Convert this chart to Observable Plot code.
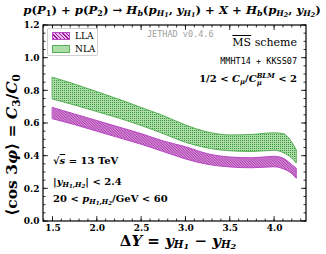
<!DOCTYPE html>
<html><head><meta charset="utf-8">
<script src="https://cdn.jsdelivr.net/npm/d3@7"></script>
<script src="https://cdn.jsdelivr.net/npm/@observablehq/plot@0.6"></script>
<style>
body{margin:0;background:#fff;}
#wrap{position:relative;width:326px;height:254px;font-family:"DejaVu Serif",serif;color:#000;overflow:hidden;}
#wrap svg{position:absolute;left:0;top:0;}
.t{position:absolute;white-space:nowrap;line-height:1;}
.b{font-weight:bold;}
i{font-style:italic;}
sub{font-size:68%;vertical-align:-0.3em;line-height:0;}
sup{font-size:68%;vertical-align:0.5em;line-height:0;}
sub sub{font-size:80%;vertical-align:-0.2em;}
.xl sub{vertical-align:-0.2em;}
.xl sub sub{vertical-align:-0.1em;}
.mono{font-family:"DejaVu Sans Mono",monospace;}
.ss{display:inline-block;vertical-align:-0.45em;line-height:1;font-size:68%;text-align:left;}
#legend{position:absolute;left:47px;top:28px;width:49px;height:26px;border:1px solid #d0d0d0;border-radius:2px;background:#fff;}
.patch{position:absolute;left:4px;width:16px;height:6px;}
.lla{background:repeating-linear-gradient(45deg,#9a1c9a 0 1px,#eab6ee 1px 2.6px);border:1px solid #b848c4;}
.nla{background:radial-gradient(circle,#3c963c 35%,transparent 45%) 0 0/2px 2px,#acdca8;border:1px solid #55b055;}
.lt{position:absolute;left:27px;font-size:9px;}
</style></head><body><div id="wrap"></div>
<script>
// ---- data ----
const deltaY  = [1.5, 1.75, 2.0, 2.25, 2.5, 2.75, 3.0, 3.25, 3.5, 3.75, 4.0, 4.1, 4.2, 4.25];
const nlaHigh = [0.880, 0.838, 0.792, 0.745, 0.695, 0.645, 0.588, 0.545, 0.527, 0.530, 0.540, 0.535, 0.482, 0.435];
const nlaLow  = [0.747, 0.710, 0.670, 0.630, 0.585, 0.535, 0.482, 0.447, 0.430, 0.426, 0.433, 0.420, 0.385, 0.355];
const llaHigh = [0.695, 0.655, 0.615, 0.575, 0.535, 0.490, 0.455, 0.412, 0.392, 0.387, 0.396, 0.385, 0.345, 0.323];
const llaLow  = [0.626, 0.590, 0.550, 0.510, 0.470, 0.425, 0.380, 0.347, 0.331, 0.326, 0.332, 0.320, 0.290, 0.262];
const xTicks = [1.5, 2.0, 2.5, 3.0, 3.5, 4.0];
const yTicks = [0.0, 0.2, 0.4, 0.6, 0.8, 1.0, 1.2];
const xDomain = [1.393, 4.36];
const yDomain = [0, 1.2];

const nla = deltaY.map((d, i) => ({dy: d, lo: nlaLow[i], hi: nlaHigh[i]}));
const lla = deltaY.map((d, i) => ({dy: d, lo: llaLow[i], hi: llaHigh[i]}));

const xMinor = d3.range(14, 44).map(v => v / 10);
const yMinor = d3.range(0, 25).map(v => v * 0.05);

function frameMark(index, scales, values, dim) {
  const {width, height, marginLeft, marginRight, marginTop, marginBottom} = dim;
  const L = marginLeft, R = width - marginRight, T = marginTop, B = height - marginBottom;
  const g = d3.create("svg:g");
  const defs = g.append("defs");
  const p1 = defs.append("pattern").attr("id", "hLLA").attr("patternUnits", "userSpaceOnUse")
    .attr("width", 2.6).attr("height", 2.6);
  p1.append("rect").attr("width", 2.6).attr("height", 2.6).attr("fill", "#eab6ee");
  p1.append("path").attr("d", "M-0.65,-0.65L3.25,3.25M-0.65,1.95L0.65,3.25M1.95,-0.65L3.25,0.65")
    .attr("stroke", "#9a1c9a").attr("stroke-width", 0.9);
  const p2 = defs.append("pattern").attr("id", "hNLA").attr("patternUnits", "userSpaceOnUse")
    .attr("width", 2).attr("height", 2);
  p2.append("rect").attr("width", 2).attr("height", 2).attr("fill", "#acdca8");
  p2.append("rect").attr("width", 1).attr("height", 1).attr("fill", "#3c963c");
  const x = scales.x, y = scales.y;
  const tk = g.append("g").attr("stroke", "black").attr("stroke-width", 0.8);
  const addX = (vals, len) => vals.forEach(v => {
    const px = x(v); if (px < L || px > R) return;
    tk.append("line").attr("x1", px).attr("x2", px).attr("y1", B).attr("y2", B - len);
    tk.append("line").attr("x1", px).attr("x2", px).attr("y1", T).attr("y2", T + len);
  });
  const addY = (vals, len) => vals.forEach(v => {
    const py = y(v); if (py < T - 0.1 || py > B + 0.1) return;
    tk.append("line").attr("y1", py).attr("y2", py).attr("x1", L).attr("x2", L + len);
    tk.append("line").attr("y1", py).attr("y2", py).attr("x1", R).attr("x2", R - len);
  });
  addX(xMinor, 2.5); addX(xTicks, 5);
  addY(yMinor, 2.5); addY(yTicks, 5);
  g.append("rect").attr("x", L).attr("y", T).attr("width", R - L).attr("height", B - T)
    .attr("fill", "none").attr("stroke", "black").attr("stroke-width", 1.2);
  // rotated y-axis label
  const yl = g.append("text").attr("transform", `translate(${L - 31},${y(0.6) + 22}) rotate(-90)`)
    .attr("text-anchor", "middle").attr("dy", "0.35em")
    .attr("font-family", "DejaVu Serif").attr("font-size", 15.5).attr("font-weight", "bold").attr("fill", "black");
  yl.append("tspan").text("⟨cos 3");
  yl.append("tspan").attr("font-style", "italic").text("φ");
  yl.append("tspan").text("⟩ = ");
  yl.append("tspan").attr("font-style", "italic").text("C");
  yl.append("tspan").attr("font-size", 10.5).attr("baseline-shift", "-3").text("3");
  yl.append("tspan").text("/");
  yl.append("tspan").attr("font-style", "italic").text("C");
  yl.append("tspan").attr("font-size", 10.5).attr("baseline-shift", "-3").text("0");
  return g.node();
}

const chart = Plot.plot({
  width: 326, height: 254,
  marginTop: 25, marginBottom: 33, marginLeft: 43, marginRight: 20,
  style: {fontFamily: "DejaVu Serif", fontSize: "9px", fontWeight: "bold", background: "transparent"},
  x: {domain: xDomain, label: null},
  y: {domain: yDomain, label: null},
  marks: [
    Plot.areaY(nla, {x: "dy", y1: "lo", y2: "hi", fill: "url(#hNLA)", stroke: "#55b055", strokeWidth: 1, curve: "monotone-x"}),
    Plot.areaY(lla, {x: "dy", y1: "lo", y2: "hi", fill: "url(#hLLA)", stroke: "#b848c4", strokeWidth: 1, curve: "monotone-x"}),
    Plot.axisX({ticks: xTicks, tickSize: 0, tickPadding: 3, tickFormat: d3.format(".1f"), label: null}),
    Plot.axisY({ticks: yTicks, tickSize: 0, tickPadding: 4, tickFormat: d3.format(".1f"), label: null}),
    frameMark
  ]
});
const wrap = document.getElementById("wrap");
wrap.appendChild(chart);

const html = `
<div class="t b" style="left:2px;width:340px;text-align:center;top:5px;font-size:11.7px;"><i>p</i>(<i>P</i><sub>1</sub>) + <i>p</i>(<i>P</i><sub>2</sub>) → <i>H<sub>b</sub></i>(<i>p<sub>H<sub>1</sub></sub></i>, <i>y<sub>H<sub>1</sub></sub></i>) + <i>X</i> + <i>H<sub>b</sub></i>(<i>p<sub>H<sub>2</sub></sub></i>, <i>y<sub>H<sub>2</sub></sub></i>)</div>
<div id="legend">
  <div class="patch lla" style="top:3px;"></div><div class="lt" style="top:2px;">LLA</div>
  <div class="patch nla" style="top:16px;"></div><div class="lt" style="top:15px;">NLA</div>
</div>
<div class="t mono" style="left:147px;top:30px;font-size:8.5px;color:#a0a0a0;">JETHAD v0.4.6</div>
<div class="t" style="right:29px;top:37px;font-size:11px;"><span style="text-decoration:overline;">MS</span> scheme</div>
<div class="t mono" style="right:29px;top:57px;font-size:8.5px;">MMHT14 + KKSS07</div>
<div class="t b" style="right:29px;top:73px;font-size:10px;">1/2 &lt; <i>C<sub>μ</sub></i>/<i>C<span class="ss">BLM<br>μ</span></i> &lt; 2</div>
<div class="t b" style="left:53px;top:156px;font-size:10px;">√<span style="text-decoration:overline;"><i>s</i></span> = 13 TeV</div>
<div class="t b" style="left:53px;top:177px;font-size:10px;">|<i>y<sub>H<sub>1</sub>,H<sub>2</sub></sub></i>| &lt; 2.4</div>
<div class="t b" style="left:53px;top:194px;font-size:10px;">20 &lt; <i>p<sub>H<sub>1</sub>,H<sub>2</sub></sub></i>/GeV &lt; 60</div>
<div class="t b xl" style="left:78px;width:200px;text-align:center;top:234px;font-size:15px;">Δ<i>Y</i> = <i>y<sub>H<sub>1</sub></sub></i> − <i>y<sub>H<sub>2</sub></sub></i></div>
`;
wrap.insertAdjacentHTML("beforeend", html);
</script>
</body></html>
